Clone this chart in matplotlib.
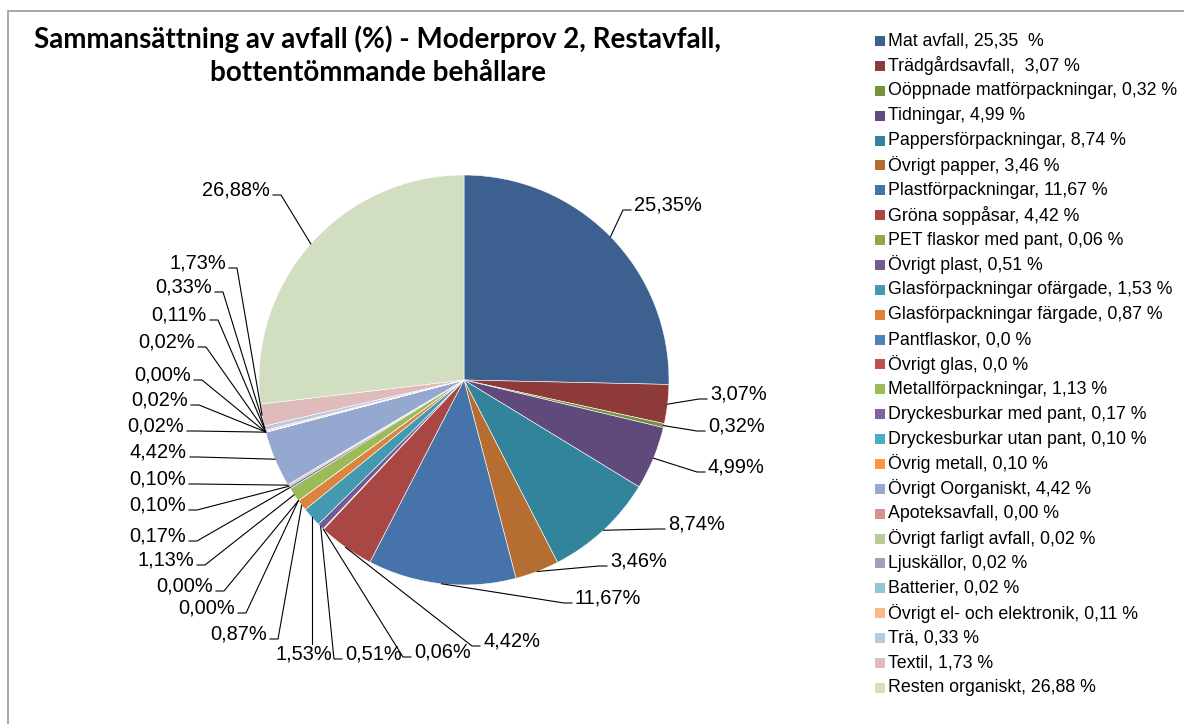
import matplotlib
matplotlib.use("Agg")
import matplotlib.pyplot as plt
from matplotlib.patches import Rectangle
import numpy as np

# ---------------- data ----------------
categories = [
    "Mat avfall", "Trädgårdsavfall", "Oöppnade matförpackningar", "Tidningar",
    "Pappersförpackningar", "Övrigt papper", "Plastförpackningar", "Gröna soppåsar",
    "PET flaskor med pant", "Övrigt plast", "Glasförpackningar ofärgade",
    "Glasförpackningar färgade", "Pantflaskor", "Övrigt glas", "Metallförpackningar",
    "Dryckesburkar med pant", "Dryckesburkar utan pant", "Övrig metall",
    "Övrigt Oorganiskt", "Apoteksavfall", "Övrigt farligt avfall", "Ljuskällor",
    "Batterier", "Övrigt el- och elektronik", "Trä", "Textil", "Resten organiskt",
]
values = [25.35, 3.07, 0.32, 4.99, 8.74, 3.46, 11.67, 4.42, 0.06, 0.51, 1.53, 0.87,
          0.0, 0.0, 1.13, 0.17, 0.10, 0.10, 4.42, 0.00, 0.02, 0.02, 0.02, 0.11,
          0.33, 1.73, 26.88]
legend_values = ["25,35  %", " 3,07 %", "0,32 %", "4,99 %", "8,74 %", "3,46 %",
                 "11,67 %", "4,42 %", "0,06 %", "0,51 %", "1,53 %", "0,87 %",
                 "0,0 %", "0,0 %", "1,13 %", "0,17 %", "0,10 %", "0,10 %", "4,42 %",
                 "0,00 %", "0,02 %", "0,02 %", "0,02 %", "0,11 %", "0,33 %",
                 "1,73 %", "26,88 %"]
title = "Sammansättning av avfall (%) - Moderprov 2, Restavfall,\nbottentömmande behållare"

# ---------------- style ----------------
colors = ["#3C6190", "#8E3A38", "#76923C", "#5F4A7B", "#31849B", "#B66D31",
          "#4674AA", "#A94745", "#8BAA4F", "#725A92", "#4399B0", "#DB843D",
          "#4F81BD", "#C0504D", "#9BBB59", "#8064A2", "#4BACC6", "#F79646",
          "#95A8D0", "#D19493", "#B8CD92", "#A99BBD", "#92C6D6", "#F9B98E",
          "#B9C8E1", "#E0BBBB", "#D1DEBF"]

# label text anchor positions in pixels (x, y from top) and leader attach mode
label_pos = [
    (634, 205, "L"), (710, 394, "L"), (708, 426, "L"), (708, 467, "L"),
    (668, 524, "L"), (610, 561, "L"), (575, 598, "L"), (483, 641, "L"),
    (414, 652, "L"), (345, 654, "L"), (304, 654, "T"), (267, 634, "R"),
    (235, 608, "R"), (213, 586, "R"), (194, 560, "R"), (186, 536, "R"),
    (186, 505, "R"), (186, 479, "R"), (187, 452, "R"), (191, 375, "R"),
    (184, 426, "R"), (188, 400, "R"), (195, 342, "R"), (207, 315, "R"),
    (212, 287, "R"), (226, 263, "R"), (270, 190, "R"),
]

W, H = 1184, 724
fig = plt.figure(figsize=(W / 100, H / 100), dpi=100)
ax = fig.add_axes([0, 0, 1, 1])


def Y(py):
    return H - py


cx, cy, R = 464, Y(380), 205
wedges, _ = ax.pie(values, colors=colors, startangle=90, counterclock=False,
                   center=(cx, cy), radius=R,
                   wedgeprops=dict(linewidth=0.4, edgecolor="white"))
ax.set_xlim(0, W)
ax.set_ylim(0, H)
ax.set_aspect("auto")
ax.set_axis_off()

lab_font = dict(family="Liberation Sans", fontsize=14.4, color="black")
for w, v, (tx, ty, mode) in zip(wedges, values, label_pos):
    mid = np.deg2rad((w.theta1 + w.theta2) / 2)
    px, py = cx + R * np.cos(mid), cy + R * np.sin(mid)
    txt = f"{v:.2f}%".replace(".", ",")
    ly = Y(ty + 5)
    if mode == "L":
        ax.plot([px, tx - 11, tx - 3], [py, ly, ly], color="black", lw=0.8)
        ax.text(tx, Y(ty), txt, ha="left", va="center", **lab_font)
    elif mode == "R":
        ax.plot([px, tx + 11, tx + 3], [py, ly, ly], color="black", lw=0.8)
        ax.text(tx, Y(ty), txt, ha="right", va="center", **lab_font)
    else:
        ax.plot([px, px], [py, Y(ty - 10)], color="black", lw=0.8)
        ax.text(tx, Y(ty), txt, ha="center", va="center", **lab_font)

# legend
leg_y0, pitch = 41, 24.88
for i, (c, col, lv) in enumerate(zip(categories, colors, legend_values)):
    yy = leg_y0 + i * pitch
    ax.add_patch(Rectangle((875, Y(yy + 5)), 10, 10, facecolor=col,
                           edgecolor="none"))
    ax.text(888, Y(yy), f"{c}, {lv}", ha="left", va="center",
            family="Liberation Sans", fontsize=12.8, color="black")

# title
ax.text(378, Y(56), title, ha="center", va="center", family="Lato",
        fontweight="bold", fontsize=20, linespacing=1.32, color="black")

# chart border
ax.plot([8, 8, W], [0, Y(11), Y(11)], color="#A0A0A0", lw=1.3,
        solid_joinstyle="miter")

fig.savefig("out.png", dpi=100)
